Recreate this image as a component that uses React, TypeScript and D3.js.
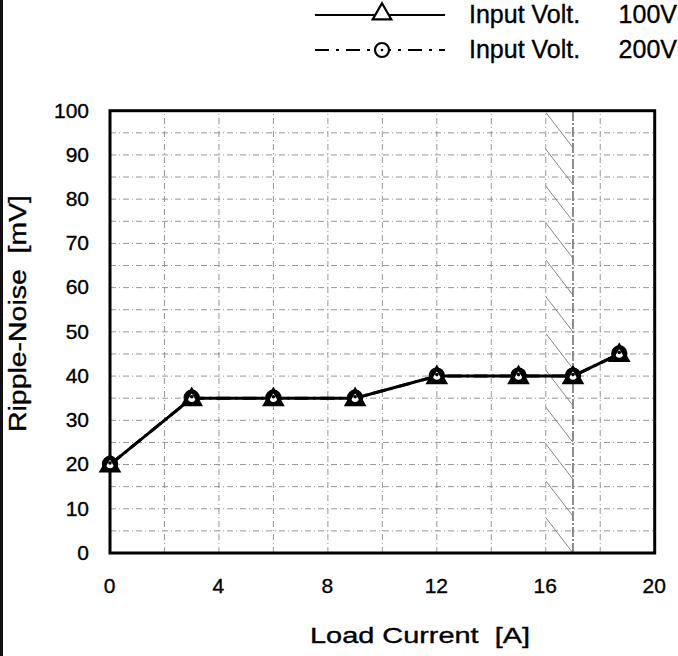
import React, { useEffect, useRef } from 'react';
import * as d3 from 'd3';

const loadCurrent = [0, 3, 6, 9, 12, 15, 17, 18.7];
const ripple100 = [20, 35, 35, 35, 40, 40, 40, 45];
const ripple200 = [20, 35, 35, 35, 40, 40, 40, 45];
const xTicks = [0, 4, 8, 12, 16, 20];
const yTicks = [0, 10, 20, 30, 40, 50, 60, 70, 80, 90, 100];
const legendLabels = ['Input Volt.', 'Input Volt.'];
const legendVolts = ['100V', '200V'];
const hatchBand = [16, 17];

const W = 678;
const H = 656;

const App = () => {
  const svgRef = useRef<SVGSVGElement>(null);

  useEffect(() => {
    const svg = d3.select(svgRef.current);
    svg.selectAll('*').remove();

    const margin = { top: 110.7, right: 22, bottom: 103, left: 110 };
    const x = d3.scaleLinear().domain([0, 20]).range([margin.left, W - margin.right - 1.3]);
    const y = d3.scaleLinear().domain([0, 100]).range([H - margin.bottom, margin.top]);
    const font = 'Liberation Sans, Arial, sans-serif';
    // scanned text looks slightly heavier than plain Arial
    const ink = (sel) => sel.attr('fill', '#000').attr('stroke', '#000').attr('stroke-width', 0.35);

    svg.append('rect').attr('width', W).attr('height', H).attr('fill', 'white');
    // frame line at the far left of the scan
    svg.append('line').attr('x1', 1.5).attr('x2', 1.5).attr('y1', 0).attr('y2', H)
      .attr('stroke', '#111').attr('stroke-width', 3);

    const g = svg.append('g');

    // grid
    const gridColor = '#8a8a8a';
    g.append('g').selectAll('line').data(d3.range(5, 100, 5)).enter().append('line')
      .attr('x1', x(0)).attr('x2', x(20)).attr('y1', d => y(d)).attr('y2', d => y(d))
      .attr('stroke', gridColor).attr('stroke-width', 0.9).attr('stroke-dasharray', '6,3,1,3');
    g.append('g').selectAll('line').data(d3.range(2, 20, 2)).enter().append('line')
      .attr('x1', d => x(d)).attr('x2', d => x(d)).attr('y1', y(0)).attr('y2', y(100))
      .attr('stroke', gridColor).attr('stroke-width', 0.9).attr('stroke-dasharray', '6,3,1,3');

    // hatched band (derating region)
    const [h0, h1] = hatchBand;
    g.append('line').attr('x1', x(h1)).attr('x2', x(h1)).attr('y1', y(0)).attr('y2', y(100))
      .attr('stroke', '#333').attr('stroke-width', 1.1).attr('stroke-dasharray', '10,2,2,2');
    const defs = svg.append('defs');
    defs.append('clipPath').attr('id', 'hatch-clip').append('rect')
      .attr('x', x(h0)).attr('y', y(100)).attr('width', x(h1) - x(h0)).attr('height', y(0) - y(100));
    const step = 8.33;
    const hatch = g.append('g').attr('clip-path', 'url(#hatch-clip)');
    hatch.selectAll('line').data(d3.range(0, 110, step)).enter().append('line')
      .attr('x1', x(h0)).attr('y1', d => y(d + 8))
      .attr('x2', x(h1)).attr('y2', d => y(d))
      .attr('stroke', '#777').attr('stroke-width', 0.9);

    // frame
    g.append('rect').attr('x', x(0)).attr('y', y(100)).attr('width', x(20) - x(0)).attr('height', y(0) - y(100))
      .attr('fill', 'none').attr('stroke', '#000').attr('stroke-width', 3);

    // axis tick labels
    g.append('g').selectAll('text').data(yTicks).enter().append('text')
      .attr('x', 89).attr('y', d => y(d) + 6.8).attr('text-anchor', 'end')
      .attr('font-family', font).attr('font-size', 21).call(ink).text(d => d);
    g.append('g').selectAll('text').data(xTicks).enter().append('text')
      .attr('x', d => x(d) - 0.5).attr('y', 593).attr('text-anchor', 'middle')
      .attr('font-family', font).attr('font-size', 21).call(ink).text(d => d);

    // axis titles
    svg.append('text').attr('x', 310).attr('y', 643)
      .attr('font-family', font).attr('font-size', 22).call(ink)
      .attr('textLength', 220).attr('lengthAdjust', 'spacingAndGlyphs')
      .style('white-space', 'pre').text('Load Current  [A]');
    svg.append('text').attr('transform', `translate(26,432) rotate(-90)`)
      .attr('font-family', font).attr('font-size', 23).call(ink)
      .attr('textLength', 237).attr('lengthAdjust', 'spacingAndGlyphs')
      .style('white-space', 'pre').text('Ripple-Noise  [mV]');

    // series
    const line = d3.line<number>().x((d, i) => x(loadCurrent[i])).y(d => y(d));
    g.append('path').datum(ripple200).attr('d', line).attr('fill', 'none')
      .attr('stroke', '#000').attr('stroke-width', 3).attr('stroke-dasharray', '14,5,2,5');
    g.append('path').datum(ripple100).attr('d', line).attr('fill', 'none')
      .attr('stroke', '#000').attr('stroke-width', 3);

    const tri = d3.symbol().type(d3.symbolTriangle).size(125);
    const drawCircle = (sel, cx, cy) => {
      sel.append('circle').attr('cx', cx).attr('cy', cy - 0.5).attr('r', 6.2)
        .attr('fill', 'white').attr('stroke', '#000').attr('stroke-width', 4);
      sel.append('circle').attr('cx', cx).attr('cy', cy - 1.5).attr('r', 1.8).attr('fill', '#000');
    };
    const drawTri = (sel, cx, cy) => {
      sel.append('path').attr('d', tri()).attr('transform', `translate(${cx},${cy + 1.5})`)
        .attr('fill', 'none').attr('stroke', '#000').attr('stroke-width', 3.3);
    };
    const markers = g.append('g');
    ripple200.forEach((v, i) => drawCircle(markers, x(loadCurrent[i]), y(v)));
    ripple100.forEach((v, i) => drawTri(markers, x(loadCurrent[i]), y(v)));

    // legend
    const leg = svg.append('g');
    leg.append('line').attr('x1', 315).attr('x2', 445).attr('y1', 15).attr('y2', 15)
      .attr('stroke', '#000').attr('stroke-width', 2.2);
    leg.append('path').attr('d', d3.symbol().type(d3.symbolTriangle).size(150)())
      .attr('transform', 'translate(382,14)').attr('fill', 'white').attr('stroke', '#000').attr('stroke-width', 2.2);
    leg.append('line').attr('x1', 315).attr('x2', 445).attr('y1', 50).attr('y2', 50)
      .attr('stroke', '#000').attr('stroke-width', 2.2).attr('stroke-dasharray', '14,7,3,7');
    leg.append('circle').attr('cx', 382).attr('cy', 50).attr('r', 7)
      .attr('fill', 'white').attr('stroke', '#000').attr('stroke-width', 2.2);
    leg.append('circle').attr('cx', 382).attr('cy', 50).attr('r', 1.3).attr('fill', '#000');
    legendLabels.forEach((t, i) => {
      leg.append('text').attr('x', 469).attr('y', 23 + i * 35).attr('font-family', font)
        .attr('font-size', 25).call(ink).text(t);
      leg.append('text').attr('x', 677).attr('y', 23 + i * 35).attr('text-anchor', 'end')
        .attr('font-family', font).attr('font-size', 25).call(ink).text(legendVolts[i]);
    });
  }, []);

  return (
    <svg ref={svgRef} width={W} height={H}
      style={{ position: 'absolute', left: 0, top: 0, display: 'block' }} />
  );
};

export default App;
